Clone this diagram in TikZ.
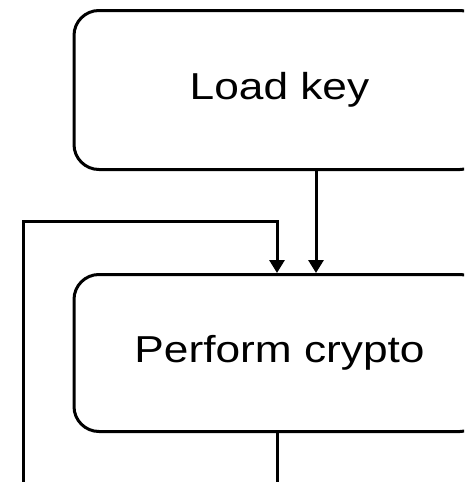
\documentclass[tikz,border=0pt]{standalone}
\usepackage{fontspec}
\setmainfont{Liberation Sans}[FakeStretch=1.18]
\usetikzlibrary{arrows.meta}

\tikzset{
  stepbox/.style={draw=black, line width=3pt, rounded corners=25pt,
    rectangle, inner sep=0pt, font=\fontsize{37.5}{45}\selectfont},
  flow/.style={draw=black, line width=3pt},
  flowarrow/.style={flow, -{Triangle[width=15pt,length=13pt]}}
}

\begin{document}
\begin{tikzpicture}[x=1pt, y=-1pt]
  \useasboundingbox (0,0) rectangle (464,482);
  \clip (0,0) rectangle (464,482);

  % process boxes (their right edges run past the page)
  \node[stepbox, minimum width=411pt, minimum height=159pt] (load) at (279.5,90) {Load key};
  \node[stepbox, minimum width=411pt, minimum height=157pt] (crypto) at (279.5,353) {Perform crypto};

  % connector columns and loop points
  \coordinate (xkey) at (316,0);
  \coordinate (xloop) at (277,0);
  \coordinate (loopstart) at (23.5,490);
  \coordinate (loopcorner) at (23.5,221);
  \coordinate (loopturn) at (277,221);
  \coordinate (exit) at (277,490);

  % key feeds the crypto step
  \draw[flowarrow] (load.south -| xkey) -- (crypto.north -| xkey);

  % loop coming back from below
  \draw[flowarrow, line join=miter] (loopstart) -- (loopcorner) -- (loopturn) -- (crypto.north -| xloop);

  % output leaving downward
  \draw[flow] (crypto.south -| xloop) -- (exit);
\end{tikzpicture}
\end{document}
